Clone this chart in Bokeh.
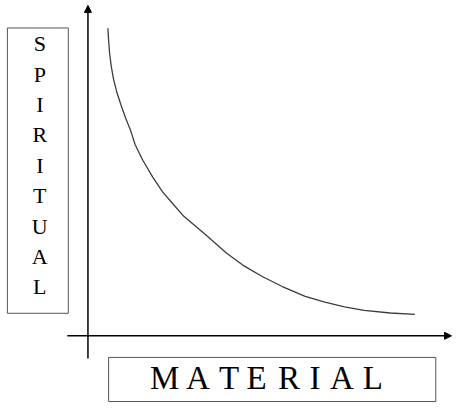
from bokeh.plotting import figure
from bokeh.models import Range1d, Arrow, NormalHead
from bokeh.core.properties import value
from bokeh.embed import file_html
from bokeh.resources import INLINE

# ---- data (chart units; the two axes cross at 0, 0) ----
material = [0.61, 0.63, 0.66, 0.71, 0.78, 0.88, 1.01, 1.15, 1.31, 1.44,
            1.68, 1.98, 2.28, 2.58, 2.93, 3.58, 4.23, 4.74, 5.34, 5.94,
            6.64, 7.24, 7.84, 8.44, 9.24, 9.99]
spiritual = [9.42, 9.07, 8.67, 8.27, 7.87, 7.47, 7.07, 6.67, 6.27, 5.86,
             5.37, 4.86, 4.41, 4.06, 3.66, 3.11, 2.54, 2.16, 1.81, 1.51,
             1.21, 1.03, 0.89, 0.78, 0.70, 0.66]
y_title = "SPIRITUAL"
x_title = "MATERIAL"

# ---- layout ----
U = 33.3  # reference px per unit
def ux(px):
    return (px - 89) / U
def uy(py):
    return (342 - py) / U

FONT = value("Liberation Serif")

p = figure(width=452, height=403,
           x_range=Range1d(ux(0), ux(460)), y_range=Range1d(uy(411), uy(0)),
           x_axis_type=None, y_axis_type=None,
           output_backend="svg", toolbar_location=None, min_border=0)
p.grid.visible = False
p.outline_line_color = None
p.background_fill_color = "white"
p.border_fill_color = "white"

# curve
p.line(material, spiritual, line_color="#3c3c3c", line_width=1.3, line_join="round")

# axes with arrow heads
p.add_layout(Arrow(end=NormalHead(size=7, fill_color="black", line_color="black", line_width=1),
                   x_start=0, y_start=uy(365), x_end=0, y_end=uy(5),
                   line_color="black", line_width=1.5))
p.add_layout(Arrow(end=NormalHead(size=7, fill_color="black", line_color="black", line_width=1),
                   x_start=ux(68), y_start=0, x_end=ux(459), y_end=0,
                   line_color="black", line_width=1.5))

# title boxes
p.quad(left=[ux(7)], right=[ux(69)], top=[uy(28)], bottom=[uy(319)],
       fill_color=None, line_color="#555555", line_width=1)
p.quad(left=[ux(110)], right=[ux(443)], top=[uy(364)], bottom=[uy(409)],
       fill_color=None, line_color="#555555", line_width=1)

# vertical title, one letter per row
letters_y = list(y_title)
ys = [uy(44 + 31 * i) for i in range(len(letters_y))]
p.text(x=[ux(40)] * len(letters_y), y=ys, text=letters_y,
       text_align="center", text_baseline="middle",
       text_font=FONT, text_font_size="22px", text_color="black")

# horizontal title, letter spaced
letters_x = list(x_title)
cx = [167, 201, 232.5, 260.5, 293.5, 320, 347.5, 379]
p.text(x=[ux(c) for c in cx], y=[uy(384.5)] * len(letters_x), text=letters_x,
       text_align="center", text_baseline="middle",
       text_font=FONT, text_font_size="33px", text_color="black")

open("out.html", "w").write(file_html(p, INLINE))
